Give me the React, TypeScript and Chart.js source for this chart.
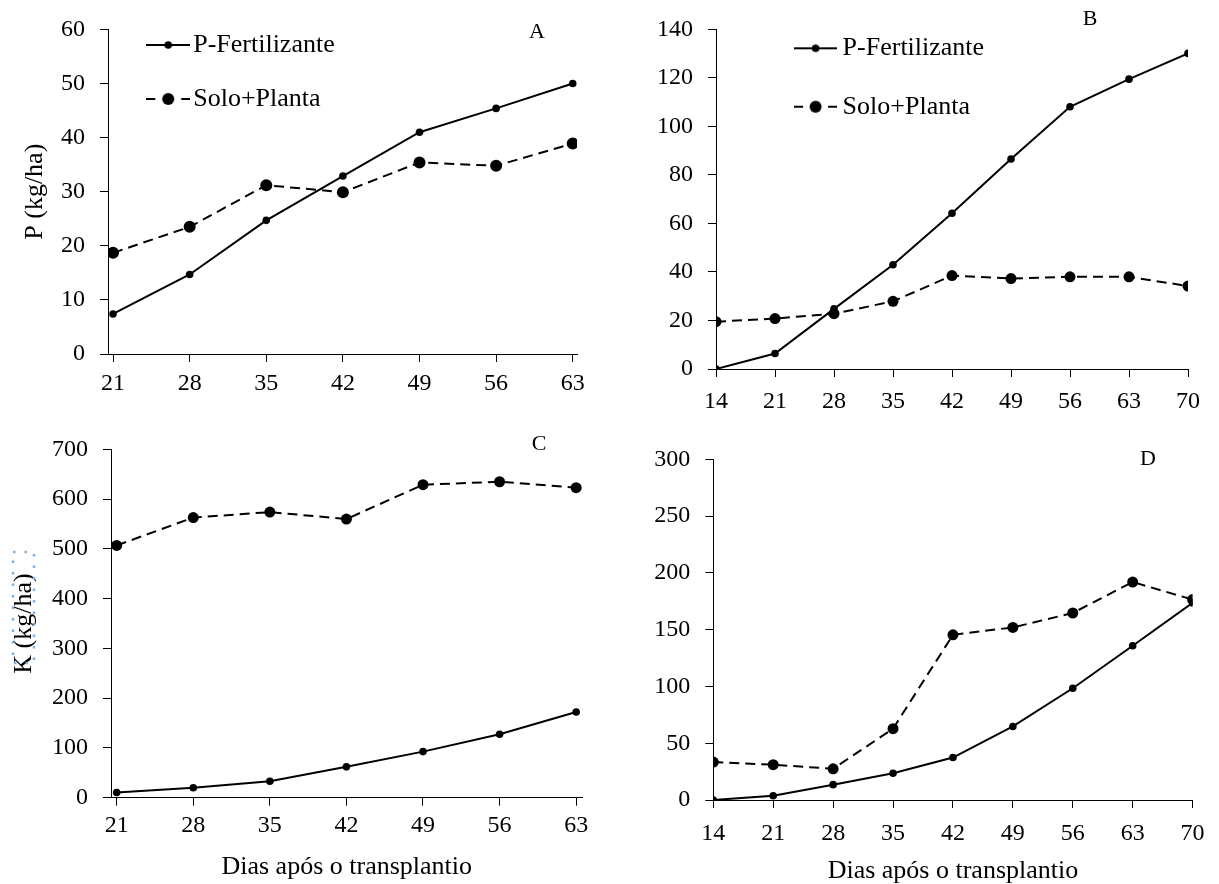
import React, { useEffect, useRef } from 'react';
import { Chart, registerables } from 'chart.js';

Chart.register(...registerables);

const FONT = "'Liberation Serif', 'Times New Roman', Times, serif";

// ---------- data ----------
const seriesNames = ['P-Fertilizante', 'Solo+Planta'];
const daysShort = [21, 28, 35, 42, 49, 56, 63];
const daysLong = [14, 21, 28, 35, 42, 49, 56, 63, 70];

const pFertA = [7.4, 14.7, 24.7, 32.9, 41.0, 45.4, 50.0];
const pSoloA = [18.7, 23.5, 31.2, 29.9, 35.4, 34.8, 38.9];

const pFertB = [0, 6.4, 24.8, 43.0, 64.2, 86.6, 108.1, 119.5, 130.1];
const pSoloB = [19.5, 20.8, 22.8, 27.9, 38.5, 37.3, 38.0, 38.0, 34.2];

const kFertC = [10.4, 20, 33, 62, 92.6, 127.6, 172.3];
const kSoloC = [507, 563, 574, 560, 629, 635, 623];

const kFertD = [0, 3.7, 13.5, 23.6, 37.4, 64.8, 98.4, 135.9, 173.6];
const kSoloD = [33.4, 31.1, 27.5, 62.8, 145.5, 152, 164.7, 192, 176.5];

const yMaxA = 60, yStepA = 10;
const yMaxB = 140, yStepB = 20;
const yMaxC = 700, yStepC = 100;
const yMaxD = 300, yStepD = 50;

const xTitleText = 'Dias após o transplantio';
const yTitleP = 'P (kg/ha)';
const yTitleK = 'K (kg/ha)';
const panelLetters = ['A', 'B', 'C', 'D'];

// ---------- helpers ----------
function makeIcon(dashed: boolean, w: number): HTMLCanvasElement {
  const c = document.createElement('canvas');
  c.width = w;
  c.height = 14;
  const ctx = c.getContext('2d')!;
  ctx.strokeStyle = '#000';
  ctx.fillStyle = '#000';
  ctx.lineWidth = 2;
  const cy = 7;
  if (!dashed) {
    ctx.beginPath();
    ctx.moveTo(0, cy);
    ctx.lineTo(w, cy);
    ctx.stroke();
    ctx.beginPath();
    ctx.arc(w / 2, cy, 3.8, 0, Math.PI * 2);
    ctx.fill();
  } else {
    ctx.beginPath();
    ctx.moveTo(0, cy);
    ctx.lineTo(9, cy);
    ctx.moveTo(w - 9, cy);
    ctx.lineTo(w, cy);
    ctx.stroke();
    ctx.beginPath();
    ctx.arc(w / 2, cy, 6, 0, Math.PI * 2);
    ctx.fill();
  }
  return c;
}

const legendPlacer = {
  id: 'legendPlacer',
  afterLayout(chart: any, _args: any, opts: any) {
    const lg = chart.legend;
    if (!lg || !opts || opts.left == null) return;
    lg.left = opts.left;
    lg.top = opts.top;
    lg.right = opts.left + 400;
    lg.bottom = opts.top + 400;
  },
};

type Spec = {
  x: number; y: number; w: number; h: number;
  left: number; top: number; right: number; bottom: number;
  days: number[]; fert: number[]; solo: number[];
  xMin: number; xMax: number; yMax: number; yStep: number;
  xTl: number; xPad: number;
  yTitle?: string; yTitlePad?: number;
  xTitle?: boolean; xTitlePad?: number;
  legend?: { left: number; top: number; padding: number; boxW: number; iconW: number };
  soloRadius: number;
};

const specs: Spec[] = [
  {
    x: 0, y: 0, w: 610, h: 420,
    left: 108, top: 23.5, right: 577, bottom: 354,
    days: daysShort, fert: pFertA, solo: pSoloA,
    xMin: 20.54, xMax: 63.39, yMax: yMaxA, yStep: yStepA,
    xTl: 8, xPad: 7,
    yTitle: yTitleP, yTitlePad: 22,
    legend: { left: 128.2, top: 4, padding: 28, boxW: 24, iconW: 44 },
    soloRadius: 6,
  },
  {
    x: 610, y: 0, w: 609, h: 430,
    left: 106, top: 20, right: 578, bottom: 369,
    days: daysLong, fert: pFertB, solo: pSoloB,
    xMin: 14, xMax: 70, yMax: yMaxB, yStep: yStepB,
    xTl: 8, xPad: 10,
    legend: { left: 159.2, top: 2.9, padding: 32.4, boxW: 28, iconW: 43 },
    soloRadius: 5.5,
  },
  {
    x: 0, y: 420, w: 610, h: 464,
    left: 111, top: 17.3, right: 582.5, bottom: 377.7,
    days: daysShort, fert: kFertC, solo: kSoloC,
    xMin: 20.48, xMax: 63.58, yMax: yMaxC, yStep: yStepC,
    xTl: 8, xPad: 6,
    yTitle: yTitleK, yTitlePad: 11,
    xTitle: true, xTitlePad: 4,
    soloRadius: 5.5,
  },
  {
    x: 610, y: 430, w: 609, h: 454,
    left: 103.3, top: 22.7, right: 582.6, bottom: 370,
    days: daysLong, fert: kFertD, solo: kSoloD,
    xMin: 14, xMax: 70, yMax: yMaxD, yStep: yStepD,
    xTl: 8, xPad: 11,
    xTitle: true, xTitlePad: 0,
    soloRadius: 5.5,
  },
];

const letterPos = [
  { x: 537, y: 31 },
  { x: 1090, y: 18 },
  { x: 539, y: 443 },
  { x: 1148, y: 458 },
];

function buildConfig(spec: Spec): any {
  const tickFont = { family: FONT, size: 24 };
  const icons = spec.legend
    ? [makeIcon(false, spec.legend.iconW), makeIcon(true, spec.legend.iconW)]
    : [];
  return {
    type: 'line',
    data: {
      datasets: [
        {
          label: seriesNames[0],
          data: spec.days.map((d, i) => ({ x: d, y: spec.fert[i] })),
          borderColor: '#000',
          backgroundColor: '#000',
          borderWidth: 2,
          pointRadius: 3.8,
          pointHoverRadius: 3.8,
          pointBorderWidth: 0,
          pointBackgroundColor: '#000',
          tension: 0,
          fill: false,
        },
        {
          label: seriesNames[1],
          data: spec.days.map((d, i) => ({ x: d, y: spec.solo[i] })),
          borderColor: '#000',
          backgroundColor: '#000',
          borderWidth: 2,
          borderDash: [10, 6],
          pointRadius: spec.soloRadius,
          pointHoverRadius: spec.soloRadius,
          pointBorderWidth: 0,
          pointBackgroundColor: '#000',
          tension: 0,
          fill: false,
        },
      ],
    },
    options: {
      responsive: false,
      animation: false,
      devicePixelRatio: 1,
      events: [],
      layout: {
        padding: { left: 0, top: spec.top, right: spec.w - spec.right, bottom: 0 },
      },
      plugins: {
        tooltip: { enabled: false },
        legend: spec.legend
          ? {
              display: true,
              position: 'chartArea',
              align: 'start',
              labels: {
                usePointStyle: true,
                pointStyleWidth: spec.legend.boxW,
                padding: spec.legend.padding,
                color: '#000',
                font: { family: FONT, size: 26 },
                generateLabels: (chart: any) =>
                  chart.data.datasets.map((ds: any, i: number) => ({
                    text: ds.label,
                    pointStyle: icons[i],
                    fillStyle: '#000',
                    strokeStyle: '#000',
                    fontColor: '#000',
                    lineWidth: 0,
                    hidden: false,
                    datasetIndex: i,
                  })),
              },
            }
          : { display: false },
        legendPlacer: spec.legend ? { left: spec.legend.left, top: spec.legend.top } : {},
      },
      scales: {
        x: {
          type: 'linear',
          min: spec.xMin,
          max: spec.xMax,
          afterFit: (s: any) => {
            s.height = spec.h - spec.bottom;
          },
          afterBuildTicks: (s: any) => {
            s.ticks = spec.days.map((v) => ({ value: v }));
          },
          ticks: {
            color: '#000',
            font: tickFont,
            padding: spec.xPad,
            maxRotation: 0,
            autoSkip: false,
            callback: (v: any) => String(v),
          },
          grid: {
            drawOnChartArea: false,
            drawTicks: true,
            tickLength: spec.xTl,
            color: '#000',
            lineWidth: 1,
          },
          border: { display: true, color: '#000', width: 1 },
          title: spec.xTitle
            ? {
                display: true,
                text: xTitleText,
                color: '#000',
                font: { family: FONT, size: 26, lineHeight: 1 },
                padding: { top: 0, bottom: spec.xTitlePad },
              }
            : { display: false },
        },
        y: {
          type: 'linear',
          min: 0,
          max: spec.yMax,
          afterFit: (s: any) => {
            s.width = spec.left;
          },
          ticks: {
            stepSize: spec.yStep,
            color: '#000',
            font: tickFont,
            padding: 15,
            autoSkip: false,
          },
          grid: {
            drawOnChartArea: false,
            drawTicks: true,
            tickLength: 8,
            color: '#000',
            lineWidth: 1,
          },
          border: { display: true, color: '#000', width: 1 },
          title: spec.yTitle
            ? {
                display: true,
                text: spec.yTitle,
                color: '#000',
                font: { family: FONT, size: 26, lineHeight: 1 },
                padding: { top: spec.yTitlePad, bottom: 0 },
              }
            : { display: false },
        },
      },
    },
    plugins: [legendPlacer],
  };
}

function Panel({ spec }: { spec: Spec }) {
  const ref = useRef<HTMLCanvasElement>(null);
  useEffect(() => {
    if (!ref.current) return;
    const chart = new Chart(ref.current, buildConfig(spec));
    return () => chart.destroy();
  }, [spec]);
  return (
    <canvas
      ref={ref}
      width={spec.w}
      height={spec.h}
      style={{ position: 'absolute', left: spec.x, top: spec.y, width: spec.w, height: spec.h }}
    />
  );
}

export default function App() {
  return (
    <div
      style={{
        position: 'absolute',
        left: 0,
        top: 0,
        width: 1219,
        height: 884,
        overflow: 'hidden',
        background: '#fff',
      }}
    >
      {specs.map((s, i) => (
        <Panel key={i} spec={s} />
      ))}
      {panelLetters.map((t, i) => (
        <div
          key={t}
          style={{
            position: 'absolute',
            left: letterPos[i].x,
            top: letterPos[i].y,
            transform: 'translate(-50%, -50%)',
            fontFamily: FONT,
            fontSize: 22,
            color: '#000',
            lineHeight: 1,
          }}
        >
          {t}
        </div>
      ))}
      <svg
        width={30}
        height={120}
        style={{ position: 'absolute', left: 8, top: 548 }}
      >
        <rect
          x={5}
          y={4}
          width={21}
          height={111}
          fill="none"
          stroke="#7fb0e0"
          strokeWidth={2.5}
          strokeDasharray="2.5 9"
        />
      </svg>
    </div>
  );
}
